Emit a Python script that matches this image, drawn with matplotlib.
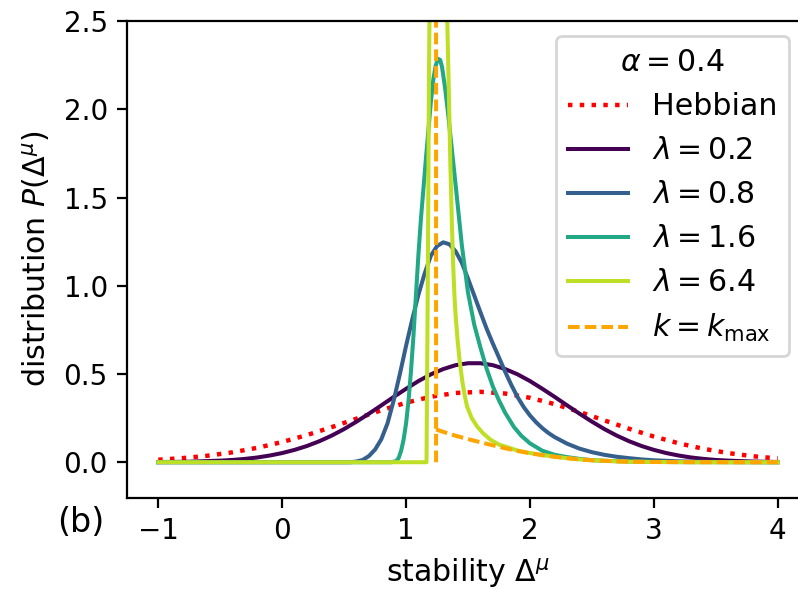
import numpy as np
import matplotlib
matplotlib.use('Agg')
import matplotlib.pyplot as plt

# ---------------- data ----------------
hebb_x = [-1.0, -0.8, -0.6, -0.4, -0.2, 0.0, 0.2, 0.4, 0.6, 0.8, 1.0, 1.2, 1.4,
          1.6, 1.8, 2.0, 2.2, 2.4, 2.6, 2.8, 3.0, 3.2, 3.4, 3.6, 3.8, 4.0]
hebb_y = [0.0143, 0.0235, 0.0371, 0.0562, 0.0818, 0.1145, 0.1539, 0.1989, 0.2468,
          0.2944, 0.3372, 0.3711, 0.3925, 0.3989, 0.3894, 0.3652, 0.3291, 0.2850,
          0.2371, 0.1895, 0.1456, 0.1074, 0.0761, 0.0519, 0.0339, 0.0213]

lam02_x = [-1.0, -0.75, -0.5, -0.4, -0.3, -0.2, -0.1, 0.0, 0.1, 0.2, 0.3, 0.4, 0.5,
           0.6, 0.7, 0.8, 0.9, 1.0, 1.1, 1.2, 1.3, 1.4, 1.5, 1.6, 1.7, 1.8, 1.9,
           2.0, 2.1, 2.2, 2.3, 2.4, 2.5, 2.6, 2.7, 2.8, 2.9, 3.0, 3.1, 3.2, 3.3,
           3.4, 3.5, 3.6, 3.8, 4.0]
lam02_y = [0.001, 0.003, 0.009, 0.013, 0.019, 0.027, 0.038, 0.052, 0.070, 0.092,
           0.119, 0.151, 0.188, 0.230, 0.275, 0.322, 0.370, 0.416, 0.460, 0.498,
           0.528, 0.550, 0.561, 0.561, 0.550, 0.528, 0.498, 0.460, 0.416, 0.370,
           0.322, 0.275, 0.230, 0.188, 0.151, 0.119, 0.092, 0.070, 0.052, 0.038,
           0.027, 0.019, 0.013, 0.009, 0.004, 0.0015]

lam08_x = [-1.0, 0.55, 0.60, 0.65, 0.70, 0.75, 0.80, 0.85, 0.90, 0.95, 1.00, 1.05,
           1.10, 1.15, 1.20, 1.25, 1.30, 1.35, 1.40, 1.45, 1.50, 1.55, 1.60, 1.65,
           1.70, 1.75, 1.80, 1.85, 1.90, 1.95, 2.00, 2.05, 2.10, 2.15, 2.20, 2.30,
           2.40, 2.50, 2.60, 2.70, 2.80, 2.90, 3.00, 3.20, 3.50, 4.00]
lam08_y = [0.0, 0.0, 0.004, 0.013, 0.035, 0.072, 0.13, 0.22, 0.35, 0.50, 0.66, 0.81,
           0.95, 1.07, 1.17, 1.225, 1.246, 1.235, 1.195, 1.13, 1.04, 0.945, 0.85,
           0.757, 0.673, 0.593, 0.512, 0.437, 0.369, 0.312, 0.265, 0.226, 0.193,
           0.165, 0.142, 0.105, 0.077, 0.057, 0.042, 0.031, 0.023, 0.016, 0.011,
           0.005, 0.0015, 0.0]

lam16_x = [-1.0, 0.88, 0.92, 0.94, 0.96, 0.98, 1.00, 1.02, 1.04, 1.06, 1.08, 1.10,
           1.12, 1.14, 1.16, 1.18, 1.20, 1.22, 1.24, 1.258, 1.275, 1.29, 1.315,
           1.34, 1.37, 1.40, 1.45, 1.50, 1.55, 1.60, 1.65, 1.70, 1.75, 1.80, 1.87,
           1.93, 2.00, 2.10, 2.20, 2.30, 2.40, 2.50, 2.60, 2.80, 3.00, 3.30, 4.00]
lam16_y = [0.0, 0.0, 0.006, 0.024, 0.065, 0.128, 0.22, 0.35, 0.52, 0.72, 0.95, 1.18,
           1.38, 1.55, 1.72, 1.88, 2.04, 2.17, 2.25, 2.286, 2.28, 2.24, 2.12, 1.97,
           1.77, 1.57, 1.23, 0.96, 0.78, 0.65, 0.53, 0.43, 0.35, 0.28, 0.20, 0.15,
           0.107, 0.065, 0.042, 0.029, 0.019, 0.012, 0.008, 0.004, 0.0015, 0.0004, 0.0]

lam64_x = [-1.0, 1.165, 1.175, 1.185, 1.195, 1.25, 1.31, 1.331, 1.345, 1.357, 1.37,
           1.38, 1.39, 1.40, 1.416, 1.43, 1.452, 1.47, 1.492, 1.53, 1.573, 1.62,
           1.68, 1.75, 1.84, 1.90, 2.00, 2.10, 2.20, 2.30, 2.40, 2.50, 2.60, 2.70,
           2.80, 3.00, 3.30, 3.60, 4.00]
lam64_y = [0.0, 0.0, 1.0, 2.2, 3.0, 3.6, 3.0, 2.55, 2.1, 1.7, 1.35, 1.12, 0.95, 0.83,
           0.69, 0.59, 0.468, 0.39, 0.316, 0.25, 0.203, 0.165, 0.128, 0.10, 0.080,
           0.066, 0.052, 0.041, 0.031, 0.023, 0.016, 0.011, 0.008, 0.005, 0.003,
           0.0015, 0.0004, 0.0001, 0.0]

kmax_x = [1.242, 1.242, np.nan, 1.242, 1.30, 1.40, 1.50, 1.60, 1.70, 1.80, 1.90,
          2.00, 2.10, 2.20, 2.30, 2.40, 2.50, 2.60, 2.70, 2.80, 3.00, 3.30, 3.60, 4.00]
kmax_y = [0.0, 3.0, np.nan, 0.186, 0.172, 0.150, 0.131, 0.113, 0.096, 0.079, 0.064,
          0.051, 0.040, 0.031, 0.023, 0.016, 0.011, 0.008, 0.005, 0.003, 0.0015,
          0.0004, 0.0001, 0.0]

lam_labels = ['0.2', '0.8', '1.6', '6.4']
x_ticks = [-1, 0, 1, 2, 3, 4]
y_ticks = [0.0, 0.5, 1.0, 1.5, 2.0, 2.5]

# ---------------- figure ----------------
plt.rcParams['font.family'] = ['DejaVu Sans']
plt.rcParams['mathtext.fontset'] = 'dejavusans'

fig = plt.figure(figsize=(3.99, 2.945), dpi=200)
ax = fig.add_axes([0.1595, 0.1553, 0.854, 0.809])

ax.plot(hebb_x, hebb_y, ':', color='red', lw=1.6, label='Hebbian')
colors = plt.cm.viridis([0.0, 0.3, 0.6, 0.9])
series = [(lam02_x, lam02_y), (lam08_x, lam08_y), (lam16_x, lam16_y), (lam64_x, lam64_y)]
for (xs, ys), lab, c in zip(series, lam_labels, colors):
    ax.plot(xs, ys, '-', color=c, lw=1.45, label=r'$\lambda = %s$' % lab)
ax.plot(kmax_x, kmax_y, color='orange', lw=1.45, dashes=(2.9, 1.25),
        label=r'$k = k_\mathrm{max}$')

ax.set_xlim(-1.25, 4.25)
ax.set_ylim(-0.2, 2.5)
ax.set_xticks(x_ticks)
ax.set_yticks(y_ticks)
ax.tick_params(labelsize=10)
ax.set_xlabel(r'stability $\Delta^\mu$', fontsize=10.8)
ax.set_ylabel(r'distribution $P(\Delta^\mu)$', fontsize=10.8)

ax.legend(title=r'$\alpha = 0.4$', loc='upper right', fontsize=10.8,
          title_fontsize=10.8, bbox_to_anchor=(0.971, 0.9685), borderaxespad=0)

fig.text(57 / 798, 1 - 523 / 589, '(b)', fontsize=12, ha='left', va='center')

fig.savefig('out.png', dpi=200)
